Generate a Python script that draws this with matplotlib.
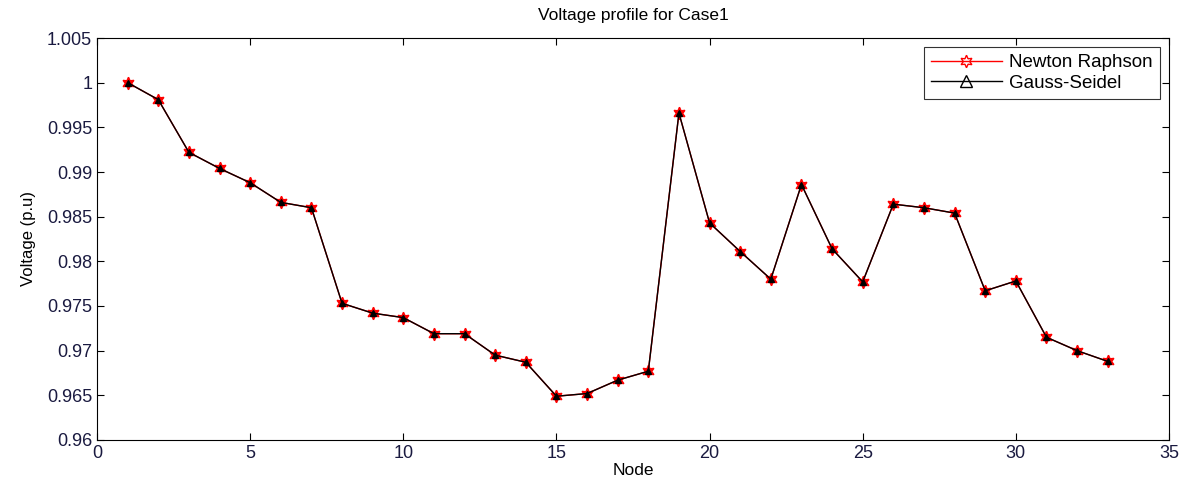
import matplotlib
matplotlib.use("Agg")
import matplotlib.pyplot as plt

nodes = list(range(1, 34))
newton_raphson = [1.0000, 0.9981, 0.9922, 0.9904, 0.9888, 0.9866, 0.9860, 0.9753, 0.9742, 0.9737,
                  0.9719, 0.9719, 0.9695, 0.9687, 0.9649, 0.9652, 0.9667, 0.9677, 0.9966, 0.9843,
                  0.9811, 0.9780, 0.9886, 0.9814, 0.9777, 0.9864, 0.9860, 0.9854, 0.9767, 0.9778,
                  0.9715, 0.9700, 0.9688]
gauss_seidel = list(newton_raphson)

plt.rcParams['font.family'] = ['Liberation Sans', 'DejaVu Sans']
fig = plt.figure(figsize=(11.79, 4.78), dpi=100)
ax = fig.add_axes([0.0823, 0.0795, 0.9092, 0.841])

ax.plot(nodes, newton_raphson, color='red', lw=1.0, marker=(6, 1, 0), ms=9,
        mfc='red', mec='red', label='Newton Raphson')
ax.plot(nodes, gauss_seidel, color='black', lw=1.0, marker='^', ms=4.5,
        mfc='black', mec='black', label='Gauss-Seidel')

ax.set_xlim(0, 35)
ax.set_ylim(0.96, 1.005)
ax.set_xticks(range(0, 36, 5))
yt = [0.96, 0.965, 0.97, 0.975, 0.98, 0.985, 0.99, 0.995, 1.0, 1.005]
ax.set_yticks(yt)
ax.set_yticklabels(['0.96', '0.965', '0.97', '0.975', '0.98', '0.985', '0.99', '0.995', '1', '1.005'])
ax.tick_params(direction='in', top=True, right=True, length=5, labelsize=13, labelcolor='#1a1a40')
ax.set_title('Voltage profile for Case1', fontsize=12.5, pad=13)
ax.set_xlabel('Node', fontsize=12.5, labelpad=1)
ax.set_ylabel('Voltage (p.u)', fontsize=12, labelpad=8)

leg = ax.legend(loc='upper right', fontsize=13.5, frameon=True, fancybox=False,
                edgecolor='black', borderaxespad=0.5, handlelength=3.8,
                handletextpad=0.4, borderpad=0.35, labelspacing=0.2)
leg.get_frame().set_linewidth(0.8)
for h in leg.legend_handles:
    h.set_markerfacecolor('none')
    h.set_markersize(9)

fig.savefig('out.png', dpi=100)
